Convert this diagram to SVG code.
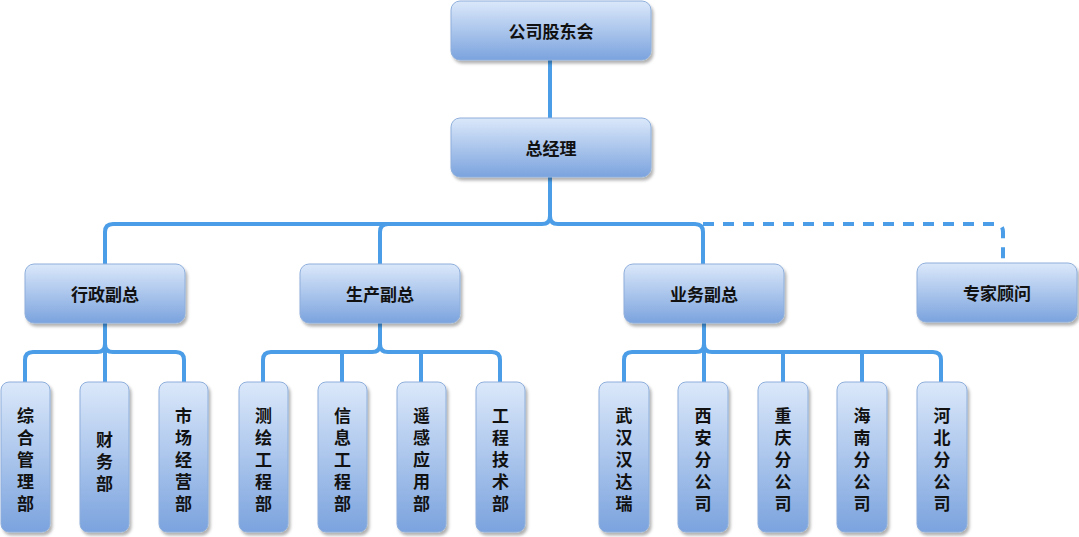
<svg xmlns="http://www.w3.org/2000/svg" width="1079" height="537" viewBox="0 0 1079 537">
<defs>
<linearGradient id="g" x1="0" y1="0" x2="0" y2="1">
<stop offset="0" stop-color="#dbe8fa"/>
<stop offset="1" stop-color="#7ba3de"/>
</linearGradient>
<filter id="sh" x="-20%" y="-20%" width="140%" height="140%">
<feDropShadow dx="2" dy="3" stdDeviation="1.5" flood-color="#000" flood-opacity="0.3"/>
</filter>
<style>
.n{fill:url(#g);stroke:#8eaedb;stroke-width:1;filter:url(#sh)}
.t{font-family:"Noto Sans CJK SC","Liberation Sans",sans-serif;font-size:17px;font-weight:bold;fill:#111;text-anchor:middle}
.v{font-family:"Noto Sans CJK SC","Liberation Sans",sans-serif;font-size:17px;font-weight:bold;fill:#111;text-anchor:middle;writing-mode:vertical-rl;letter-spacing:5px}
.c{fill:none;stroke:#4a9de6;stroke-width:4}
.d{fill:none;stroke:#4a9de6;stroke-width:4;stroke-dasharray:11,9}
</style>
</defs>
<g id="connectors">
<path class="c" d="M550,60 V118"/>
<path class="c" d="M550,177 V216 Q550,224 542,224 H113 Q105,224 105,232 V264"/>
<path class="c" d="M550,216 Q550,224 558,224 H695 Q703,224 703,232 V264"/>
<path class="c" d="M388,224 Q380,224 380,232 V264"/>
<path class="d" d="M703,224 H995 Q1003,224 1003,232 V262"/>
<path class="c" d="M105,323 V382"/>
<path class="c" d="M105,344 Q105,352 97,352 H33 Q25,352 25,360 V382"/>
<path class="c" d="M105,344 Q105,352 113,352 H176 Q184,352 184,360 V382"/>
<path class="c" d="M380,323 V344 Q380,352 372,352 H271 Q263,352 263,360 V382"/>
<path class="c" d="M380,344 Q380,352 388,352 H492 Q500,352 500,360 V382"/>
<path class="c" d="M342,352 V382 M421,352 V382"/>
<path class="c" d="M704,323 V382"/>
<path class="c" d="M704,344 Q704,352 696,352 H632 Q624,352 624,360 V382"/>
<path class="c" d="M704,344 Q704,352 712,352 H933 Q941,352 941,360 V382"/>
<path class="c" d="M783,352 V382 M862,352 V382"/>
</g>
<g id="n-gudong"><rect class="n" x="451" y="1" width="200" height="59" rx="9"/><text class="t" x="551" y="38">公司股东会</text></g>
<g id="n-zongjingli"><rect class="n" x="451" y="118" width="200" height="59" rx="9"/><text class="t" x="551" y="155">总经理</text></g>
<g id="n-xingzheng"><rect class="n" x="25" y="264" width="160" height="59" rx="9"/><text class="t" x="105" y="301">行政副总</text></g>
<g id="n-shengchan"><rect class="n" x="300" y="264" width="160" height="59" rx="9"/><text class="t" x="380" y="301">生产副总</text></g>
<g id="n-yewu"><rect class="n" x="624" y="264" width="160" height="59" rx="9"/><text class="t" x="704" y="301">业务副总</text></g>
<g id="n-zhuanjia"><rect class="n" x="917" y="263" width="160" height="59" rx="9"/><text class="t" x="997" y="300">专家顾问</text></g>
<g id="n-zonghe"><rect class="n" x="1" y="382" width="49" height="150" rx="8"/><text class="v" x="25.5" y="462">综合管理部</text></g>
<g id="n-caiwu"><rect class="n" x="80" y="382" width="49" height="150" rx="8"/><text class="v" x="104.5" y="464">财务部</text></g>
<g id="n-shichang"><rect class="n" x="159" y="382" width="49" height="150" rx="8"/><text class="v" x="183.5" y="462">市场经营部</text></g>
<g id="n-cehui"><rect class="n" x="239" y="382" width="49" height="150" rx="8"/><text class="v" x="263.5" y="462">测绘工程部</text></g>
<g id="n-xinxi"><rect class="n" x="318" y="382" width="49" height="150" rx="8"/><text class="v" x="342.5" y="462">信息工程部</text></g>
<g id="n-yaogan"><rect class="n" x="397" y="382" width="49" height="150" rx="8"/><text class="v" x="421.5" y="462">遥感应用部</text></g>
<g id="n-gongcheng"><rect class="n" x="476" y="382" width="49" height="150" rx="8"/><text class="v" x="500.5" y="462">工程技术部</text></g>
<g id="n-wuhan"><rect class="n" x="599" y="382" width="50" height="150" rx="8"/><text class="v" x="624" y="462">武汉汉达瑞</text></g>
<g id="n-xian"><rect class="n" x="678" y="382" width="50" height="150" rx="8"/><text class="v" x="703" y="462">西安分公司</text></g>
<g id="n-chongqing"><rect class="n" x="758" y="382" width="50" height="150" rx="8"/><text class="v" x="783" y="462">重庆分公司</text></g>
<g id="n-hainan"><rect class="n" x="837" y="382" width="50" height="150" rx="8"/><text class="v" x="862" y="462">海南分公司</text></g>
<g id="n-hebei"><rect class="n" x="917" y="382" width="50" height="150" rx="8"/><text class="v" x="942" y="462">河北分公司</text></g>
</svg>
